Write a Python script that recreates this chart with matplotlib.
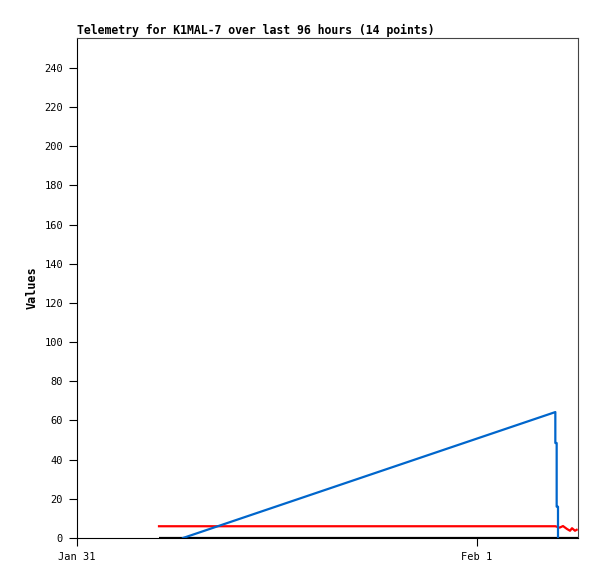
import matplotlib
matplotlib.use("Agg")
import matplotlib.pyplot as plt

# hours after Jan 31 00:00
blue_t = [6.36, 28.70, 28.70, 28.78, 28.78, 28.86, 28.86]
blue_v = [0, 64.3, 48.5, 48.5, 16, 16, 0]

red_t = [4.92, 28.70, 28.96, 29.16, 29.40, 29.58, 29.70, 29.88, 29.98]
red_v = [6, 6, 5.3, 6.1, 4.6, 3.7, 5.0, 3.7, 4.2]

black_t = [4.92, 30.06]
black_v = [0, 0]

xtick_pos = [0, 24]
xtick_labels = ["Jan 31", "Feb 1"]
yticks = list(range(0, 241, 20))

plt.rcParams['font.family'] = ['DejaVu Sans Mono']

fig = plt.figure(figsize=(5.97, 5.79), dpi=100)
ax = fig.add_axes([77/597, 1 - 538/579, (578-77)/597, (538-38)/579])

ax.plot(black_t, black_v, color='black', linewidth=1.6, solid_capstyle='butt')
ax.plot(red_t, red_v, color='#ff0000', linewidth=1.6)
ax.plot(blue_t, blue_v, color='#0066cc', linewidth=1.6)

ax.set_xlim(0, 30.06)
ax.set_ylim(0, 255.3)
ax.set_xticks(xtick_pos)
ax.set_xticklabels(xtick_labels)
ax.set_yticks(yticks)
ax.tick_params(axis='both', direction='out', length=6, width=0.8, labelsize=7.5, pad=4)

for s in ['top', 'right']:
    ax.spines[s].set_color('#444444')
for s in ['left', 'bottom']:
    ax.spines[s].set_color('black')
for s in ax.spines.values():
    s.set_linewidth(0.8)

ax.set_ylabel("Values", fontsize=8.5, fontweight='bold', labelpad=4)
ax.set_title("Telemetry for K1MAL-7 over last 96 hours (14 points)",
             fontsize=8.3, fontweight='bold', loc='left', pad=3)

fig.savefig("out.png", dpi=100)
